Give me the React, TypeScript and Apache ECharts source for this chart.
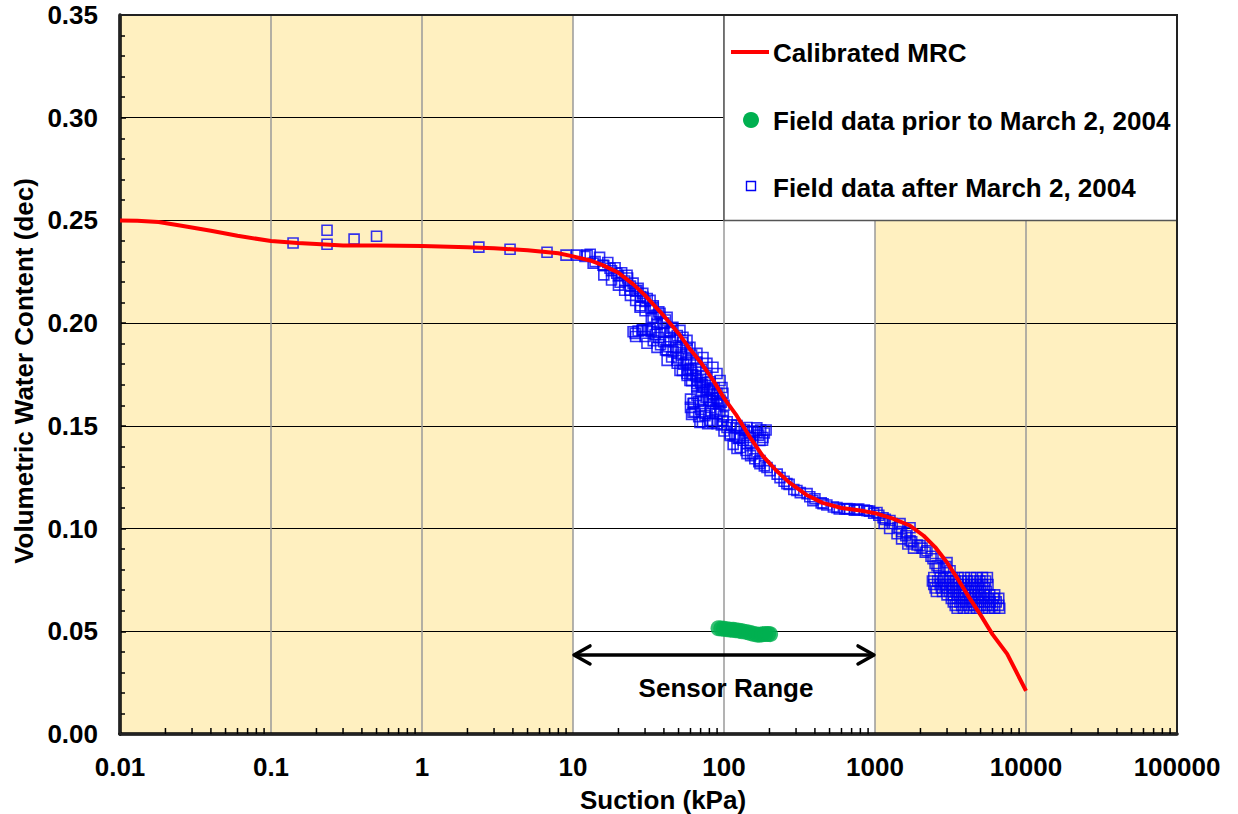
import React, { useEffect, useRef } from "react";
import * as echarts from "echarts";

// ---------- Data ----------
const X_TICK_LABELS = ["0.01", "0.1", "1", "10", "100", "1000", "10000", "100000"];
const Y_TICK_LABELS = ["0.00", "0.05", "0.10", "0.15", "0.20", "0.25", "0.30", "0.35"];

// Calibrated MRC (suction kPa, volumetric water content)
const mrcX = [0.01, 0.013, 0.018, 0.025, 0.04, 0.06, 0.1, 0.15, 0.2, 0.3, 0.5, 1, 2, 3, 5, 8, 10, 13, 16, 20, 25, 30, 40, 50, 60, 70, 85, 100, 120, 150, 180, 220, 270, 350, 450, 600, 800, 1000, 1300, 1700, 2100, 2500, 3000, 3600, 4200, 5000, 6000, 7500, 8800, 10000];
const mrcY = [0.25, 0.2498, 0.2492, 0.2475, 0.245, 0.2425, 0.24, 0.239, 0.2385, 0.2378, 0.2378, 0.2375, 0.237, 0.2365, 0.2355, 0.234, 0.2325, 0.2305, 0.228, 0.2245, 0.219, 0.2135, 0.2035, 0.195, 0.187, 0.181, 0.172, 0.1635, 0.1555, 0.144, 0.1355, 0.1285, 0.1225, 0.1165, 0.1125, 0.11, 0.1088, 0.1075, 0.105, 0.1015, 0.0965, 0.091, 0.0835, 0.0745, 0.0665, 0.058, 0.0485, 0.039, 0.029, 0.021];

// Field data prior to March 2, 2004
const priorX = [92, 96, 100, 105, 110, 115, 120, 126, 132, 140, 148, 156, 165, 172, 180, 188, 196, 202];
const priorY = [0.0515, 0.0513, 0.0512, 0.051, 0.0508, 0.0507, 0.0505, 0.0503, 0.05, 0.0497, 0.0493, 0.0488, 0.0484, 0.0483, 0.0485, 0.0487, 0.0487, 0.0486];

// Field data after March 2, 2004 — sparse early readings
const afterSparse: [number, number][] = [
  [0.14, 0.239], [0.235, 0.2452], [0.235, 0.2384], [0.355, 0.2409], [0.5, 0.2423],
  [2.38, 0.237], [3.83, 0.236], [6.73, 0.2345], [8.99, 0.2331],
];
// upper branch 10–100 kPa
const afterUpper: [number, number][] = [
  [10.6, 0.2331], [12.4, 0.2331], [13.6, 0.2292], [15.8, 0.2282], [17.6, 0.2267], [19.5, 0.2243], [22.8, 0.2233], [20.5, 0.2199], [23.8, 0.216], [26.5, 0.216],
  [29.1, 0.2126], [32.4, 0.2111], [27.8, 0.2077], [33.9, 0.2077], [37.7, 0.2048], [33.9, 0.2028], [42.0, 0.2028], [39.4, 0.1999], [45.9, 0.198], [43.9, 0.1955],
  [51.1, 0.1965], [53.5, 0.1931], [56.9, 0.1916], [59.5, 0.1882], [66.2, 0.1853], [72.6, 0.1833], [77.1, 0.1804], [84.5, 0.1785], [89.9, 0.1755], [94.2, 0.1721],
  [97.0, 0.1687], [98.4, 0.1658],
  [12, 0.2325], [14, 0.23], [16, 0.228], [18, 0.2255], [20, 0.223], [22, 0.2205], [24, 0.218], [26, 0.2155], [28, 0.213], [30, 0.2105], [33, 0.207], [36, 0.204],
  [40, 0.2], [44, 0.196], [48, 0.192], [52, 0.1885], [56, 0.185], [60, 0.182], [65, 0.178], [70, 0.174], [75, 0.171], [80, 0.168], [85, 0.165], [90, 0.162],
  [13, 0.2335], [15, 0.232], [17, 0.2295], [19, 0.227], [21, 0.2245], [23, 0.222], [25, 0.2195], [27, 0.217], [29, 0.2145], [31, 0.212], [34, 0.2085], [37, 0.2055],
  [41, 0.2015], [45, 0.1975], [49, 0.194], [53, 0.1905], [57, 0.1875], [61, 0.1845], [66, 0.181], [71, 0.1775], [76, 0.1745], [81, 0.1715], [86, 0.1685],
  [16, 0.2235], [18, 0.221], [20, 0.2185], [22, 0.216], [24, 0.2135], [26, 0.211], [28, 0.2085], [30, 0.206], [33, 0.2025], [36, 0.1995], [40, 0.1955], [44, 0.1915],
  [48, 0.188], [52, 0.1845], [56, 0.181], [60, 0.178], [65, 0.1745], [70, 0.171],
];
// lower branch starting near 25 kPa
const afterLower: [number, number][] = [
  [25.8, 0.195], [28.6, 0.1965], [32.4, 0.197], [36.0, 0.1955], [30.9, 0.1902], [36.0, 0.1882], [42.0, 0.1867], [42.0, 0.1819], [48.9, 0.1819], [51.1, 0.177],
  [56.9, 0.1755], [59.5, 0.1721], [66.2, 0.1706], [72.6, 0.1687], [80.8, 0.1672], [89.9, 0.1658],
  [25, 0.1958], [27, 0.1962], [29, 0.1968], [31, 0.1965], [33, 0.196], [35, 0.1945], [37, 0.193], [40, 0.191], [43, 0.1885], [46, 0.186], [50, 0.183], [54, 0.18],
  [58, 0.1775], [62, 0.175], [67, 0.172], [72, 0.17], [78, 0.1675], [84, 0.1655], [90, 0.1635], [96, 0.1615],
  [26, 0.1935], [30, 0.1935], [34, 0.1915], [38, 0.1895], [41, 0.187], [45, 0.1835], [49, 0.1805], [53, 0.177], [57, 0.1745], [61, 0.172], [66, 0.169], [71, 0.1665],
  [76, 0.164], [82, 0.162],
];
// dense block 60–200 kPa
const afterMid: [number, number][] = [
  [62.4, 0.1609], [62.4, 0.1565], [72.6, 0.1624], [80.8, 0.1589], [89.9, 0.156], [94.2, 0.1624], [69.3, 0.1516], [80.8, 0.1526], [98.4, 0.1526], [104.7, 0.1492],
  [121.9, 0.1502], [142, 0.1492], [165.5, 0.1468], [173, 0.1429], [121.9, 0.1443], [142, 0.1414], [121.9, 0.139], [155.6, 0.1365], [173, 0.1331], [192.7, 0.1297],
  [66.2, 0.1648], [84.5, 0.1609], [74.8, 0.155], [109.6, 0.1453], [137.7, 0.1453], [181, 0.1443], [148.6, 0.1443], [142, 0.1365], [173, 0.1316],
  [60, 0.163], [63, 0.161], [60, 0.159], [64, 0.157], [61, 0.1555], [68, 0.1545], [72, 0.152], [78, 0.151], [84, 0.1515], [90, 0.151], [96, 0.1505], [70, 0.158],
  [75, 0.156], [82, 0.157], [88, 0.158], [94, 0.157], [99, 0.1545], [68, 0.162], [80, 0.1625], [92, 0.1605], [100, 0.16],
  [105, 0.152], [112, 0.1505], [120, 0.149], [128, 0.1485], [136, 0.148], [145, 0.147], [155, 0.1475], [165, 0.149], [175, 0.148], [185, 0.1465], [190, 0.148],
  [110, 0.146], [118, 0.145], [126, 0.144], [134, 0.143], [150, 0.142], [170, 0.1455], [180, 0.143], [100, 0.1475], [115, 0.141], [128, 0.1395], [140, 0.138],
  [150, 0.1355], [160, 0.134], [170, 0.1325], [185, 0.1305],
];
// along the curve 200–3200 kPa
const afterTail: [number, number][] = [
  [201.8, 0.1282], [235, 0.1248], [261, 0.1219], [304, 0.1185], [355, 0.117], [388, 0.1136], [453, 0.1121], [560, 0.1102], [653, 0.1097], [760, 0.1092],
  [885, 0.1087], [1031, 0.1078], [1130, 0.1053], [1256, 0.1039], [1465, 0.1024], [1629, 0.098], [1706, 0.1004], [1706, 0.0941], [1988, 0.0917], [2208, 0.0892],
  [2422, 0.0853], [2576, 0.0819], [3000, 0.0834], [3140, 0.0795],
  [225, 0.1265], [250, 0.123], [270, 0.1215], [290, 0.119], [320, 0.1175], [370, 0.1155], [400, 0.1145], [440, 0.1125], [480, 0.1115], [530, 0.1105],
  [580, 0.1095], [630, 0.1095], [680, 0.1095], [730, 0.109], [780, 0.1095], [850, 0.109], [920, 0.1085], [980, 0.1075], [1060, 0.1065], [1170, 0.1045],
  [1300, 0.1025], [1420, 0.1005], [1500, 0.0985], [1600, 0.0965], [1750, 0.0935], [1900, 0.092], [2050, 0.0905], [2150, 0.0885], [2350, 0.0865], [2500, 0.083],
  [2650, 0.081], [2850, 0.0805], [2950, 0.0815],
  [1150, 0.1025], [1250, 0.1], [1400, 0.0975], [1500, 0.095], [1650, 0.0925], [1800, 0.0905],
];
// dense cluster 2400–6700 kPa
const afterCluster: [number, number][] = [
  [2450, 0.0762], [2700, 0.0762], [2950, 0.0762], [3250, 0.0762], [3550, 0.0762], [3900, 0.0762], [4300, 0.0762], [4700, 0.0762], [5150, 0.0762], [5550, 0.0762],
  [2400, 0.0745], [2600, 0.0745], [2850, 0.0745], [3100, 0.0745], [3400, 0.0745], [3750, 0.0745], [4100, 0.0745], [4500, 0.0745], [4950, 0.0745], [5400, 0.0745],
  [2450, 0.0728], [2700, 0.0728], [2950, 0.0728], [3250, 0.0728], [3550, 0.0728], [3900, 0.0728], [4300, 0.0728], [4700, 0.0728], [5150, 0.0728], [5600, 0.0728],
  [2500, 0.0711], [2750, 0.0711], [3000, 0.0711], [3300, 0.0711], [3650, 0.0711], [4000, 0.0711], [4400, 0.0711], [4850, 0.0711], [5300, 0.0711],
  [2550, 0.0694], [2800, 0.0694], [3100, 0.0694], [3400, 0.0694], [3750, 0.0694], [4150, 0.0694], [4550, 0.0694], [5000, 0.0694], [5450, 0.0694],
  [3000, 0.0677], [3300, 0.0677], [3600, 0.0677], [3950, 0.0677], [4350, 0.0677], [4800, 0.0677], [5250, 0.0677], [5750, 0.0677], [6200, 0.0677],
  [3200, 0.066], [3500, 0.066], [3850, 0.066], [4250, 0.066], [4650, 0.066], [5100, 0.066], [5600, 0.066], [6100, 0.066], [6600, 0.066],
  [3300, 0.0643], [3650, 0.0643], [4000, 0.0643], [4400, 0.0643], [4850, 0.0643], [5300, 0.0643], [5800, 0.0643], [6350, 0.0643],
  [3400, 0.0626], [3750, 0.0626], [4150, 0.0626], [4550, 0.0626], [5000, 0.0626], [5500, 0.0626], [6000, 0.0626], [6600, 0.0626],
  [3500, 0.0612], [3850, 0.0612], [4250, 0.0612], [4700, 0.0612], [5150, 0.0612], [5650, 0.0612], [6200, 0.0612], [6700, 0.0612],
];

const DECADES = [0.01, 0.1, 1, 10, 100, 1000, 10000];
const MINOR_MULT = [2, 3, 4, 5, 6, 7, 8, 9];

const FONT = "'Liberation Sans', Arial, sans-serif";
const YELLOW = "#FFF0C0";
const BLUE = "#0000F5";

export default function App() {
  const ref = useRef<HTMLDivElement>(null);

  useEffect(() => {
    if (!ref.current) return;
    const chart = echarts.init(ref.current, null, { renderer: "svg" });

    const mrcData = mrcX.map((x, i) => [x, mrcY[i]]);
    const priorData = priorX.map((x, i) => [x, priorY[i]]);
    const afterData = [...afterSparse, ...afterUpper, ...afterLower, ...afterMid, ...afterTail, ...afterCluster];

    const labelStyle = { fontFamily: FONT, fontWeight: "bold", fontSize: 26, color: "#000" };

    chart.setOption({
      animation: false,
      backgroundColor: "#fff",
      grid: {
        left: 120, right: 61, top: 15, bottom: 80,
        show: true, borderColor: "#222", borderWidth: 2, backgroundColor: "transparent", z: 3,
      },
      xAxis: {
        type: "log", logBase: 10, min: 0.01, max: 100000, z: 2,
        axisLine: { show: true, lineStyle: { color: "#000", width: 3.5 } },
        axisTick: { show: false },
        splitLine: { show: true, lineStyle: { color: "#9a9a9a", width: 1.5 } },
        axisLabel: {
          ...labelStyle, margin: 20, showMaxLabel: true, showMinLabel: true,
          formatter: (v: number) => X_TICK_LABELS[Math.round(Math.log10(v)) + 2] ?? "",
        },
      },
      yAxis: {
        type: "value", min: 0, max: 0.35, interval: 0.05, z: 2,
        axisLine: { show: true, lineStyle: { color: "#000", width: 3.5 } },
        axisTick: { show: true, inside: true, length: 6, lineStyle: { color: "#000", width: 1.5 } },
        minorTick: { show: true, splitNumber: 5, length: 5, lineStyle: { color: "#000", width: 1.5 } },
        splitLine: { show: true, lineStyle: { color: "#000", width: 1.2 } },
        axisLabel: {
          ...labelStyle, margin: 22,
          formatter: (v: number) => Y_TICK_LABELS[Math.round(v / 0.05)] ?? "",
        },
      },
      series: [
        {
          name: "Field data prior to March 2, 2004",
          type: "scatter", z: 4,
          symbol: "circle", symbolSize: 16,
          itemStyle: { color: "#00B050" },
          data: priorData,
          markArea: {
            silent: true, z: 1,
            itemStyle: { color: YELLOW },
            data: [
              [{ xAxis: 0.01, yAxis: 0 }, { xAxis: 10, yAxis: 0.35 }],
              [{ xAxis: 1000, yAxis: 0 }, { xAxis: 100000, yAxis: 0.25 }],
            ],
          },
        },
        {
          name: "Field data after March 2, 2004",
          type: "scatter", z: 5,
          symbol: "rect", symbolSize: 10,
          itemStyle: { color: "rgba(0,0,0,0)", borderColor: BLUE, borderWidth: 1.6 },
          data: afterData,
          markArea: {
            silent: true, z: 2.5,
            itemStyle: { color: "#fff", borderColor: "#555", borderWidth: 1.5 },
            data: [[{ xAxis: 100, yAxis: 0.25 }, { xAxis: 100000, yAxis: 0.35 }]],
          },
        },
        {
          name: "Calibrated MRC",
          type: "line", z: 6,
          showSymbol: false, symbol: "none", smooth: false,
          lineStyle: { color: "#FF0000", width: 4 },
          data: mrcData,
        },
      ],
    });

    const p = (x: number, y: number) => chart.convertToPixel({ xAxisIndex: 0, yAxisIndex: 0 }, [x, y]) as number[];

    const graphics: any[] = [];
    // minor ticks on log x axis
    DECADES.forEach((d) => {
      MINOR_MULT.forEach((m) => {
        const [px, py] = p(d * m, 0);
        graphics.push({
          type: "line", z: 20, silent: true,
          shape: { x1: px, y1: py, x2: px, y2: py - 6 },
          style: { stroke: "#000", lineWidth: 1.5 },
        });
      });
    });

    // Sensor range arrow
    const [lx, ly] = p(10, 0.0385);
    const [rx] = p(1000, 0.0385);
    const arrowStyle = { stroke: "#000", lineWidth: 3.5, fill: "none", lineCap: "round", lineJoin: "round" };
    graphics.push({ type: "line", z: 20, shape: { x1: lx + 2, y1: ly, x2: rx - 2, y2: ly }, style: arrowStyle });
    graphics.push({ type: "polyline", z: 20, shape: { points: [[lx + 17, ly - 9], [lx + 1, ly], [lx + 17, ly + 9]] }, style: arrowStyle });
    graphics.push({ type: "polyline", z: 20, shape: { points: [[rx - 17, ly - 9], [rx - 1, ly], [rx - 17, ly + 9]] }, style: arrowStyle });
    graphics.push({
      type: "text", z: 20, x: (lx + rx) / 2 + 2, y: ly + 33,
      style: { text: "Sensor Range", font: `bold 26px ${FONT}`, fill: "#000", textAlign: "center", textVerticalAlign: "middle" },
    });

    // Axis names
    graphics.push({
      type: "text", z: 20, x: 663, y: 800,
      style: { text: "Suction (kPa)", font: `bold 26px ${FONT}`, fill: "#000", textAlign: "center", textVerticalAlign: "middle" },
    });
    graphics.push({
      type: "text", z: 20, x: 24, y: 371, rotation: Math.PI / 2,
      style: { text: "Volumetric Water Content (dec)", font: `bold 26px ${FONT}`, fill: "#000", textAlign: "center", textVerticalAlign: "middle" },
    });

    // Legend
    const legendFont = `bold 26px ${FONT}`;
    graphics.push({ type: "line", z: 20, shape: { x1: 731, y1: 52, x2: 769, y2: 52 }, style: { stroke: "#FF0000", lineWidth: 4 } });
    graphics.push({ type: "text", z: 20, x: 773, y: 53, style: { text: "Calibrated MRC", font: legendFont, fill: "#000", textVerticalAlign: "middle" } });
    graphics.push({ type: "circle", z: 20, shape: { cx: 751, cy: 120, r: 8 }, style: { fill: "#00B050" } });
    graphics.push({ type: "text", z: 20, x: 773, y: 121, style: { text: "Field data prior to March 2, 2004", font: legendFont, fill: "#000", textVerticalAlign: "middle" } });
    graphics.push({ type: "rect", z: 20, shape: { x: 746.5, y: 181.5, width: 9, height: 9 }, style: { fill: "none", stroke: BLUE, lineWidth: 1.4 } });
    graphics.push({ type: "text", z: 20, x: 773, y: 188, style: { text: "Field data after March 2, 2004", font: legendFont, fill: "#000", textVerticalAlign: "middle" } });

    chart.setOption({ graphic: graphics });

    return () => chart.dispose();
  }, []);

  return <div ref={ref} style={{ position: "fixed", left: 0, top: 0, width: 1238, height: 814 }} />;
}
